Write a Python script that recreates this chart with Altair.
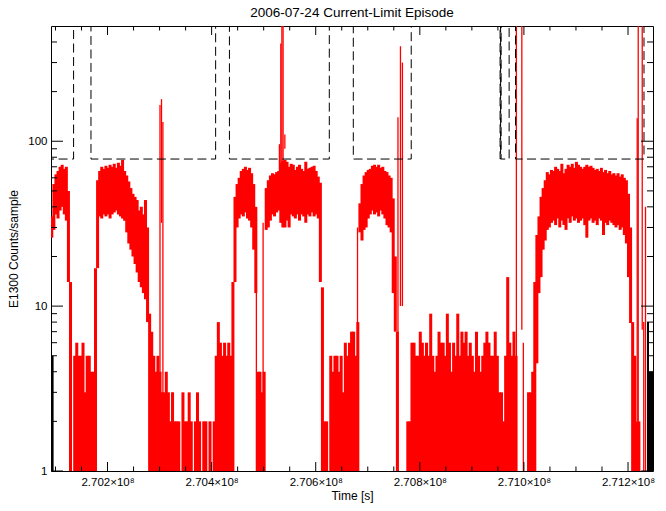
import altair as alt
import pandas as pd

TITLE = "2006-07-24 Current-Limit Episode"
X_TITLE = "Time [s]"
Y_TITLE = "E1300 Counts/sample"

T_MIN = 2.700914e8
T_MAX = 2.712480e8
Y_MIN = 1
Y_MAX = 500

X_MAJOR = [2.702e8, 2.704e8, 2.706e8, 2.708e8, 2.710e8, 2.712e8]
X_MINOR_KS = [100, 150, 250, 300, 350, 450, 500, 550, 650, 700, 750,
              850, 900, 950, 1050, 1100, 1150]
Y_MAJOR = [1, 10, 100]
Y_MINOR = [2, 3, 4, 5, 6, 7, 8, 9, 20, 30, 40, 50, 60, 70, 80, 90, 200, 300, 400]

# red series: per 4 ks bin, upper and lower envelope of the counts (1 = floor)
BIN_START = 2.7009e8
BIN_WIDTH = 4000.0
HI = [35, 55, 63, 66, 70, 72, 68, 70, 50, 14,
      1, 5, 6, 5, 5, 6, 3, 5, 5, 4,
      4, 17, 58, 66, 70, 68, 71, 69, 72, 70,
      73, 69, 74, 71, 77, 66, 62, 57, 52, 48,
      46, 44, 38, 40, 36, 44, 30, 9, 7, 5,
      4, 5, 4, 3, 3, 4, 3, 2, 3, 2,
      2, 2, 1, 3, 2, 2, 3, 2, 1, 2,
      3, 2, 1, 2, 2, 1, 2, 1, 2, 5,
      8, 6, 5, 6, 5, 6, 5, 14, 46, 55,
      60, 66, 68, 70, 67, 69, 64, 55, 40, 4,
      4, 3, 4, 52, 58, 62, 64, 63, 65, 66,
      74, 76, 77, 75, 70, 73, 72, 67, 70, 72,
      68, 66, 75, 68, 69, 70, 71, 66, 61, 56,
      13, 2, 2, 1, 5, 4, 5, 5, 4, 5,
      3, 6, 5, 6, 7, 7, 5, 8, 42, 55,
      62, 65, 67, 68, 71, 72, 70, 72, 69, 70,
      66, 65, 62, 60, 45, 20, 7, 1, 1, 1,
      1, 2, 2, 6, 6, 5, 5, 7, 6, 5,
      6, 5, 9, 5, 4, 5, 7, 6, 6, 5,
      9, 6, 4, 6, 5, 9, 5, 7, 6, 7,
      5, 6, 5, 4, 7, 5, 4, 5, 6, 7,
      6, 5, 5, 7, 5, 3, 3, 2, 5, 15,
      6, 5, 7, 5, 1, 1, 1, 1, 1, 3,
      3, 4, 14, 27, 35, 46, 52, 58, 65, 63,
      67, 66, 70, 68, 66, 73, 64, 68, 72, 70,
      73, 69, 75, 72, 70, 68, 70, 72, 70, 71,
      69, 67, 68, 66, 69, 65, 67, 64, 66, 63,
      64, 62, 64, 61, 63, 60, 58, 48, 30, 8,
      5, 2, 2, 1, 1, 1, 1, 1, 1, 1]
LO = [26, 29, 36, 34, 38, 40, 36, 33, 14, 1,
      1, 1, 1, 1, 1, 1, 1, 1, 1, 1,
      1, 1, 17, 35, 34, 36, 35, 36, 34, 36,
      37, 38, 36, 35, 34, 33, 28, 24, 22, 20,
      18, 16, 14, 13, 12, 11, 8, 1, 1, 1,
      1, 1, 1, 1, 1, 1, 1, 1, 1, 1,
      1, 1, 1, 1, 1, 1, 1, 1, 1, 1,
      1, 1, 1, 1, 1, 1, 1, 1, 1, 1,
      1, 1, 1, 1, 1, 1, 1, 1, 14, 30,
      34, 36, 35, 37, 34, 33, 30, 22, 12, 1,
      1, 1, 1, 29, 30, 33, 36, 35, 37, 38,
      32, 30, 30, 33, 30, 36, 35, 34, 36, 33,
      36, 35, 32, 36, 35, 37, 35, 36, 34, 14,
      1, 1, 1, 1, 1, 1, 1, 1, 1, 1,
      1, 1, 1, 1, 1, 1, 1, 1, 28, 25,
      29, 30, 34, 36, 38, 36, 37, 35, 38, 36,
      34, 31, 30, 28, 12, 7, 1, 1, 1, 1,
      1, 1, 1, 1, 1, 1, 1, 1, 1, 1,
      1, 1, 1, 1, 1, 1, 1, 1, 1, 1,
      1, 1, 1, 1, 1, 1, 1, 1, 1, 1,
      1, 1, 1, 1, 1, 1, 1, 1, 1, 1,
      1, 1, 1, 1, 1, 1, 1, 1, 1, 1,
      1, 1, 1, 1, 1, 1, 1, 1, 1, 1,
      1, 1, 1, 4.5, 12, 15, 22, 25, 29, 30,
      32, 33, 31, 34, 30, 33, 31, 29, 34, 32,
      35, 33, 34, 32, 33, 34, 31, 26, 33, 34,
      32, 33, 31, 34, 33, 27, 32, 31, 33, 32,
      31, 30, 31, 29, 30, 27, 24, 15, 7.9, 1,
      1, 1, 1, 1, 1, 1, 1, 1, 1, 1]

# narrow red spikes: time (ks after 2.7e8), low, high
SPIKE_KS = [300.8, 303.7, 306.4, 486.0, 498.9, 530.2, 532.9, 535.0, 537.3,
            540.7, 542.6, 680.3, 758.0, 762.8, 766.6, 985.5, 996.0, 998.9,
            1217.7, 1219.6, 1227.3, 1230.2, 1233.6]
SPIKE_LO = [1, 32, 1, 1, 1, 48, 48, 60, 45, 90, 48, 1, 1, 10, 10, 1, 7.2, 1,
            2, 1, 7.2, 1, 1]
SPIKE_HI = [166, 180, 131, 36, 32, 96, 392, 3000, 3000, 110, 75, 30, 140, 377,
            300, 3000, 3000, 6, 138, 3000, 3000, 8, 40]

# black series at the edges: start ks, end ks, value
BLACK_T0 = [85.0, 1236.5, 1240.3]
BLACK_T1 = [96.4, 1240.3, 1255.0]
BLACK_V = [5, 8, 4]

# current-limit flag (dashed): change times (ks) and level
FLAG_KS = [80.0, 134.8, 168.2, 407.7, 434.2, 626.1, 672.2, 783.5, 954.2,
           955.2, 956.2, 971.6, 983.9, 1230.7, 1260.0]
FLAG_V = [78, 3000, 78, 3000, 78, 3000, 78, 3000, 78, 3000, 78, 3000, 78,
          3000, 3000]

W, H = 602, 445
FONT = "Liberation Sans"
OVERLAP = 0.45  # rect drawn slightly wider than its bin to avoid seams

bins = pd.DataFrame({
    "t": [BIN_START + i * BIN_WIDTH for i in range(len(HI))],
    "t1": [BIN_START + (i + 1 + OVERLAP) * BIN_WIDTH for i in range(len(HI))],
    "hi": HI, "lo": LO,
})
bins = bins[bins["hi"] > bins["lo"]]
spikes = pd.DataFrame({"t": [2.7e8 + k * 1e3 for k in SPIKE_KS],
                       "lo": SPIKE_LO, "hi": SPIKE_HI})
black = pd.DataFrame({"t": [2.7e8 + k * 1e3 for k in BLACK_T0],
                      "t1": [2.7e8 + k * 1e3 for k in BLACK_T1],
                      "lo": [1] * 3, "hi": BLACK_V})
flag = pd.DataFrame({"t": [2.7e8 + k * 1e3 for k in FLAG_KS], "v": FLAG_V})
xmaj = pd.DataFrame({"t": X_MAJOR})
xmin = pd.DataFrame({"t": [2.7e8 + k * 1e3 for k in X_MINOR_KS]})
ymaj = pd.DataFrame({"v": Y_MAJOR})
ymin = pd.DataFrame({"v": Y_MINOR})

xscale = alt.Scale(domain=[T_MIN, T_MAX], zero=False, nice=False)
yscale = alt.Scale(type="log", domain=[Y_MIN, Y_MAX], nice=False)
xaxis = alt.Axis(values=X_MAJOR, domain=False, ticks=False, grid=False,
                 labelExpr="format(datum.value / 1e8, '.3f') + '×10⁸'",
                 labelPadding=5, titlePadding=3, labelFlush=False)
yaxis = alt.Axis(values=Y_MAJOR, domain=False, ticks=False, grid=False,
                 labelExpr="format(datum.value, 'd')", labelPadding=4,
                 titlePadding=7)


def X(field="t"):
    return alt.X(f"{field}:Q", scale=xscale, axis=xaxis, title=X_TITLE)


def Y(field):
    return alt.Y(f"{field}:Q", scale=yscale, axis=yaxis, title=Y_TITLE)


red = alt.Chart(bins).mark_rect(color="#ff0000", clip=True).encode(
    x=X(), x2="t1:Q", y=Y("lo"), y2="hi:Q")
spk = alt.Chart(spikes).mark_rule(color="#ff0000", strokeWidth=1.3,
                                  clip=True).encode(
    x=X(), y=Y("lo"), y2="hi:Q")
blk = alt.Chart(black).mark_rect(color="black", clip=True).encode(
    x=X(), x2="t1:Q", y=Y("lo"), y2="hi:Q")
dash = alt.Chart(flag).mark_line(color="black", strokeWidth=1,
                                 strokeDash=[9, 4.5], interpolate="step-after",
                                 clip=True).encode(x=X(), y=Y("v"))


def xticks(df, y0, y1):
    return alt.Chart(df).mark_rule(color="black", strokeWidth=1).encode(
        x=X(), y=alt.value(y0), y2=alt.value(y1))


def yticks(df, x0, x1):
    return alt.Chart(df).mark_rule(color="black", strokeWidth=1).encode(
        y=Y("v"), x=alt.value(x0), x2=alt.value(x1))


ticks = [
    xticks(xmaj, H, H - 9), xticks(xmaj, 0, 9),
    xticks(xmin, H, H - 4.5), xticks(xmin, 0, 4.5),
    yticks(ymaj, 0, 12), yticks(ymaj, W, W - 12),
    yticks(ymin, 0, 6), yticks(ymin, W, W - 6),
]

chart = alt.layer(red, spk, blk, dash, *ticks).properties(
    width=W, height=H,
    title=alt.TitleParams(TITLE, font=FONT, fontSize=13.5, fontWeight="normal",
                          color="black", offset=6),
    autosize=alt.AutoSizeParams(type="none"),
    padding={"left": 51, "top": 26, "right": 13, "bottom": 40},
    background="white",
).configure_view(stroke="black", strokeWidth=1).configure_axis(
    labelFont=FONT, labelFontSize=11.5, labelColor="black",
    titleFont=FONT, titleFontSize=12, titleFontWeight="normal",
    titleColor="black",
)

chart.save("out.html", embed_options={"renderer": "svg", "actions": False})
